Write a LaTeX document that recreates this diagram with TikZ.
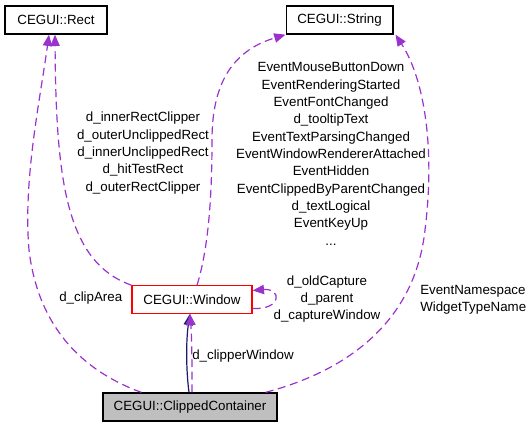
\documentclass[tikz,border=0pt]{standalone}
\usepackage{fontspec}
\setmainfont{Liberation Sans}
\usetikzlibrary{arrows.meta,calc}

\definecolor{usecol}{RGB}{154,50,205}
\definecolor{inhcol}{RGB}{25,25,112}

\begin{document}
\begin{tikzpicture}[x=0.75pt,y=0.75pt,yscale=-1,
  cls/.style={draw,line width=1pt,minimum height=21pt,inner sep=2pt,font=\fontsize{10}{13}\selectfont},
  usage/.style={draw=usecol,line width=0.9pt,dash pattern=on 6pt off 3.5pt,-{Triangle[length=8.5pt,width=7pt,fill=usecol]}},
  inherit/.style={draw=inhcol,line width=0.9pt,-{Triangle[length=8.5pt,width=7pt,fill=usecol]}},
  lbl/.style={font=\fontsize{10}{13}\selectfont,align=center,inner sep=0pt}]
\useasboundingbox (0,0) rectangle (531,427);

% Class nodes
\node[cls,minimum width=76.5pt] (rect) at (56,20) {CEGUI::Rect};
\node[cls,minimum width=80pt] (str) at (339.5,20) {CEGUI::String};
\node[cls,draw=red,minimum width=90pt,minimum height=20.5pt] (win) at (192,299.5) {CEGUI::Window};
\node[cls,fill={rgb,255:red,191;green,191;blue,191},minimum width=130.5pt] (cc) at (190,407) {CEGUI::ClippedContainer};

% Edge labels
\node[lbl] (rectlbl) at (143,153) {d\_innerRectClipper\\d\_outerUnclippedRect\\d\_innerUnclippedRect\\d\_hitTestRect\\d\_outerRectClipper};
\node[lbl] (strlbl) at (331,154) {EventMouseButtonDown\\EventRenderingStarted\\EventFontChanged\\d\_tooltipText\\EventTextParsingChanged\\EventWindowRendererAttached\\EventHidden\\EventClippedByParentChanged\\d\_textLogical\\EventKeyUp\\...};
\node[lbl] (looplbl) at (327,299) {d\_oldCapture\\d\_parent\\d\_captureWindow};
\node[lbl,anchor=west,align=left] (nslbl) at (420,299.5) {EventNamespace\\WidgetTypeName};
\node[lbl,anchor=west] (cliplbl) at (59,298) {d\_clipArea};
\node[lbl,anchor=west] (cwlbl) at (192,356) {d\_clipperWindow};

% Connectors
\draw[usage] ($(cc.north west)+(39,0)$) .. controls (80,370) and (38,325) .. (29,250) .. controls (23,180) and (40,100) .. ($(rect.south)+(-7,0)$);
\draw[usage] (win.north west) .. controls (66,262) and (56,180) .. ($(rect.south)+(-1,0)$);
\draw[usage] ($(win.north)+(5,0)$) .. controls (208,250) and (212,200) .. (212,140) .. controls (212,80) and (235,50) .. (str.south west);
\draw[usage] ($(cc.north east)+(-12,0)$) .. controls (350,370) and (415,320) .. (425,230) .. controls (435,150) and (425,80) .. ($(str.south east)+(2,0)$);
\draw[inherit] ($(cc.north)+(-1,0)$) .. controls (186,370) and (186,340) .. ($(win.south)+(-2,0)$);
\draw[usage] ($(cc.north)+(2,0)$) .. controls (192,370) and (192,340) .. ($(win.south)+(-2,0)$);
\draw[usage] ($(win.east)+(0,9)$) .. controls (282,310) and (282,288) .. ($(win.east)+(0,-9)$);
\end{tikzpicture}
\end{document}
